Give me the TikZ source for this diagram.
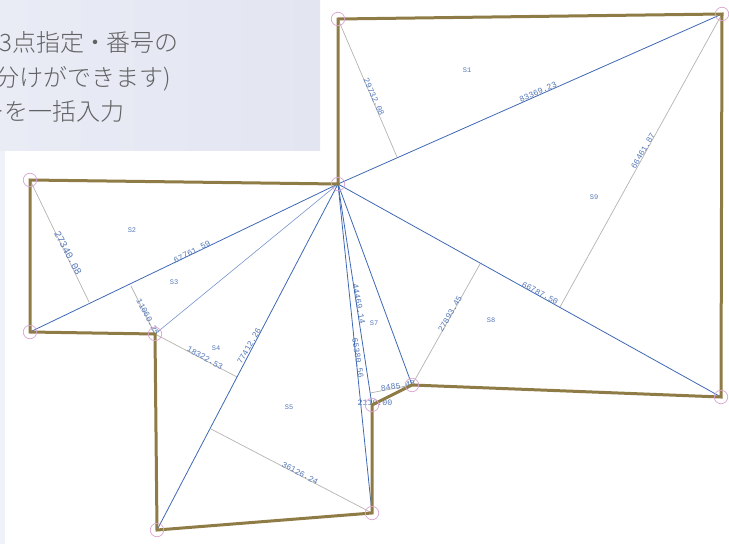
\documentclass[tikz,border=0pt]{standalone}
\usepackage{xcolor}
\usepackage{fontspec}
\setmainfont{Liberation Sans}
\setmonofont{Liberation Mono}
\newfontfamily\cjk{Noto Sans CJK JP Light}
\definecolor{panelleft}{HTML}{E9ECF5}
\definecolor{panelright}{HTML}{E3E6F1}
\definecolor{stripbg}{HTML}{F0F2F9}
\definecolor{roofline}{HTML}{8F7B45}
\definecolor{splitblue}{HTML}{3E68B4}
\definecolor{perpgray}{HTML}{B5B3AE}
\definecolor{ringpink}{HTML}{D9A6D2}
\definecolor{labelblue}{HTML}{5578B8}
\definecolor{captiongray}{HTML}{626264}
\tikzset{
  corner/.style = {circle, draw = ringpink, line width = 0.7pt, minimum size = 13.5pt, inner sep = 0pt},
  roof/.style = {draw = roofline, line width = 3pt, line join = miter},
  split/.style = {draw = splitblue, line width = 0.8pt},
  thinsplit/.style = {draw = splitblue!70, line width = 0.6pt},
  perp/.style = {draw = perpgray, line width = 0.7pt},
  lengthlabel/.style = {text = labelblue, font = \fontsize{8.3}{8.3}\selectfont\ttfamily, inner sep = 0pt},
  biglabel/.style = {lengthlabel, font = \fontsize{10}{10}\selectfont\ttfamily},
  arealabel/.style = {text = labelblue, font = \fontsize{7}{7}\selectfont\ttfamily, inner sep = 0pt},
  caption/.style = {text = captiongray, font = \fontsize{24}{24}\selectfont\cjk, anchor = base west, inner sep = 0pt}
}
\begin{document}
\begin{tikzpicture}[x = 1pt, y = -1pt]
    \useasboundingbox (0, 0) rectangle (729, 544);
    \clip (0, 0) rectangle (729, 544);
    % panel
    {
      \fill[stripbg] (0, 150) rectangle (5, 544);
      \fill[left color = panelleft, right color = panelright] (0, 0) rectangle (320, 150);
      \node[caption] (line1) at (-1, 51) {3点指定\hspace{-1pt}・\hspace{-1pt}番号の};
      \node[caption] (line2) at (-29, 86) {り分けができます)};
      \node[caption] (line3) at (-20, 120) {ーを一括入力};
    }
    % corners
    \coordinate (a) at (338, 19);
    \coordinate (b) at (722, 14);
    \coordinate (c) at (721, 397);
    \coordinate (d) at (412, 385);
    \coordinate (e) at (372, 405);
    \coordinate (f) at (372, 513);
    \coordinate (g) at (157, 530);
    \coordinate (h) at (155, 334);
    \coordinate (i) at (30, 332);
    \coordinate (j) at (30, 180);
    \coordinate (k) at (338, 184);
    % feet of the heights
    \coordinate (fa) at (397, 157);
    \coordinate (fb) at (560, 307);
    \coordinate (fd) at (480, 264);
    \coordinate (fde) at (370, 393);
    \coordinate (ff) at (211, 429);
    \coordinate (fh) at (131, 286);
    \coordinate (fhg) at (237, 377);
    \coordinate (fj) at (89, 302);
    % heights
    \draw[perp] (a) -- (fa);
    \draw[perp] (b) -- (fb);
    \draw[perp] (d) -- (fd);
    \draw[perp] (d) -- (fde);
    \draw[perp] (f) -- (ff);
    \draw[perp] (h) -- (fh);
    \draw[perp] (h) -- (fhg);
    \draw[perp] (j) -- (fj);
    % splits
    \draw[split] (k) -- (b);
    \draw[split] (k) -- (c);
    \draw[split] (k) -- (d);
    \draw[split] (k) -- (e);
    \draw[split] (k) -- (f);
    \draw[split] (k) -- (g);
    \draw[split] (k) -- (i);
    \draw[thinsplit] (k) -- (h);
    % lengths
    \node[lengthlabel, rotate = -66] (la) at (374, 97) {29732.08};
    \node[lengthlabel, rotate = 24] (lkb) at (538, 92) {83369.23};
    \node[lengthlabel, rotate = 60] (lb) at (643, 151) {66461.87};
    \node[lengthlabel, rotate = 60] (ld) at (450, 314) {27893.45};
    \node[lengthlabel, rotate = -28] (lkc) at (540, 293) {66787.50};
    \node[lengthlabel, rotate = 27] (lki) at (192, 252) {67761.59};
    \node[biglabel, rotate = -62] (lj) at (68, 253) {27340.08};
    \node[lengthlabel, rotate = -62] (lh) at (148, 317) {11060.25};
    \node[lengthlabel, rotate = -29] (lhg) at (205, 358) {18322.53};
    \node[lengthlabel, rotate = 60] (lkg) at (249, 346) {77412.26};
    \node[lengthlabel, rotate = -79] (lkd) at (359, 304) {44469.14};
    \node[lengthlabel, rotate = -81] (lkf) at (358, 358) {65380.56};
    \node[lengthlabel, rotate = 10] (lde) at (398, 386) {8485.48};
    \node[lengthlabel] (lef) at (375, 403) {2110.00};
    \node[lengthlabel, rotate = -28] (lfg) at (300, 473) {36126.24};
    % areas
    \node[arealabel] (s1) at (467, 70) {S1};
    \node[arealabel] (s2) at (132, 230) {S2};
    \node[arealabel] (s3) at (174, 282) {S3};
    \node[arealabel] (s4) at (216, 348) {S4};
    \node[arealabel] (s5) at (289, 407) {S5};
    \node[arealabel] (s7) at (374, 323) {S7};
    \node[arealabel] (s8) at (491, 320) {S8};
    \node[arealabel] (s9) at (594, 197) {S9};
    % outline
    \draw[roof] (a) -- (b) -- (c) -- (d) -- (e) -- (f) -- (g) -- (h) -- (i) -- (j) -- (k) -- cycle;
    % rings
    \foreach \name/\pos in {ra/a, rb/b, rc/c, rd/d, re/e, rf/f, rg/g, rh/h, ri/i, rj/j, rk/k}
      \node[corner] (\name) at (\pos) {};
  \end{tikzpicture}
\end{document}
